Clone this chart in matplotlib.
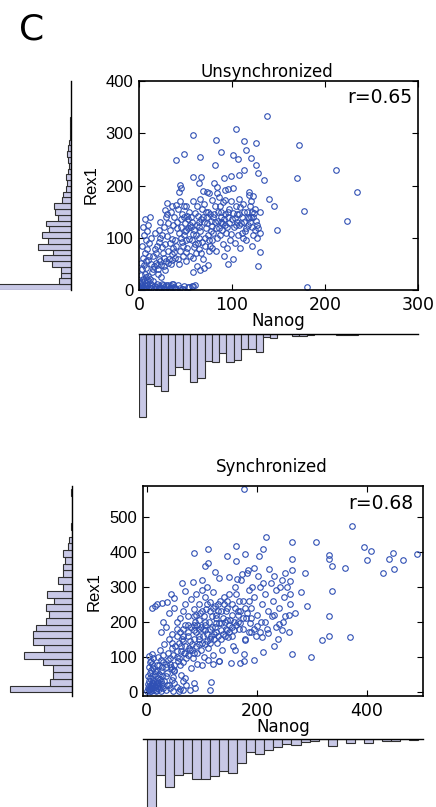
import numpy as np
import matplotlib
matplotlib.use("Agg")
import matplotlib.pyplot as plt

# taille de la figure en pixels (dpi 100)
W, H = 436, 807

panel_letter = "C"
titles = ["Unsynchronized", "Synchronized"]
r_labels = ["r=0.65", "r=0.68"]
x_name = "Nanog"
y_name = "Rex1"

# Unsynchronized : points (Nanog, Rex1)
unsync_points = [
    # amas près de l'origine
    (1, 1), (2, 3), (3, 0), (4, 5), (5, 2), (1, 8), (2, 12), (6, 7), (7, 1), (8, 4),
    (3, 15), (5, 18), (9, 10), (10, 2), (11, 6), (12, 14), (4, 22), (7, 25), (13, 3), (14, 9),
    (2, 28), (6, 30), (9, 20), (15, 18), (0, 4), (1, 16), (3, 9), (8, 14), (10, 27), (12, 22),
    # rangée du bas
    (16, 2), (18, 5), (20, 1), (22, 7), (24, 3), (26, 9), (28, 2), (30, 5), (32, 1), (34, 8),
    (36, 3), (38, 6), (40, 2), (42, 10), (44, 4), (46, 1), (48, 7), (53, 5), (57, 8), (60, 10),
    (19, 11), (25, 12), (31, 10), (37, 12), (17, 8), (21, 3), (27, 6), (33, 4), (29, 9), (35, 11),
    (47, 1), (54, 6), (58, 8), (39, 3),
    # bande verticale à gauche
    (3, 40), (5, 48), (8, 55), (4, 62), (10, 58), (6, 70), (9, 78), (3, 85), (11, 90), (7, 95),
    (5, 105), (9, 112), (4, 120), (10, 125), (6, 135), (12, 140), (8, 42), (11, 66), (2, 52), (13, 100),
    # nuage principal, bas gauche
    (14, 35), (16, 45), (18, 52), (20, 40), (22, 60), (24, 48), (26, 70), (15, 65), (17, 78), (19, 85),
    (21, 92), (23, 100), (25, 82), (27, 62), (29, 55), (31, 75), (33, 90), (35, 68), (37, 80), (39, 95),
    (28, 88), (30, 104), (32, 60), (34, 50), (36, 98), (38, 72), (40, 85), (20, 30), (24, 25), (28, 38),
    (13, 50), (18, 70), (15, 40), (19, 48), (23, 55), (27, 45), (31, 52), (35, 58), (39, 62), (43, 50),
    (25, 105), (21, 115), (17, 110), (23, 130), (27, 120), (31, 128), (33, 115), (37, 125), (41, 118),
    # nuage principal, milieu
    (42, 60), (44, 75), (46, 92), (48, 105), (50, 115), (52, 80), (54, 98), (56, 120), (58, 108), (60, 88),
    (62, 125), (64, 100), (66, 112), (68, 92), (70, 130), (72, 118), (74, 105), (76, 85), (78, 122), (80, 110),
    (45, 120), (49, 128), (53, 135), (57, 95), (61, 70), (65, 78), (69, 60), (73, 140), (77, 132), (43, 110),
    (47, 65), (51, 55), (55, 125), (59, 115), (63, 142), (67, 135), (71, 100), (75, 75), (79, 95), (41, 130),
    (50, 95), (58, 62), (62, 45), (66, 38), (70, 42), (74, 48), (58, 35),
    (47, 85), (51, 72), (55, 65), (59, 82), (63, 90), (67, 70), (71, 85), (75, 95), (79, 80), (45, 100),
    (49, 112), (53, 118), (57, 130), (61, 105), (65, 120), (69, 140), (73, 128), (77, 112), (45, 135), (48, 140),
    (56, 140), (64, 130), (72, 150),
    # nuage principal, droite
    (82, 130), (84, 100), (86, 118), (88, 140), (90, 88), (92, 125), (94, 110), (96, 150), (98, 95), (100, 135),
    (102, 120), (104, 160), (106, 105), (108, 145), (110, 128), (112, 165), (114, 112), (116, 150), (118, 138), (120, 170),
    (122, 120), (124, 148), (126, 132), (128, 118), (130, 110), (83, 75), (87, 160), (91, 65), (95, 80), (99, 170),
    (103, 90), (107, 175), (111, 140), (115, 95), (119, 160), (123, 105), (127, 100), (85, 150), (89, 115), (93, 172),
    (97, 128), (101, 60), (105, 145), (109, 80), (113, 130), (117, 125), (121, 85), (125, 155),
    (81, 145), (83, 118), (85, 132), (87, 105), (89, 128), (91, 135), (93, 145), (95, 120), (97, 155), (99, 108),
    (101, 148), (103, 138), (105, 130), (107, 125), (109, 158), (111, 110), (113, 150), (115, 118), (117, 140), (119, 130),
    (121, 150), (123, 140), (125, 115), (127, 125), (80, 140), (88, 130), (96, 140), (104, 125), (112, 100), (120, 140),
    # bande haute
    (30, 145), (34, 150), (38, 140), (42, 155), (46, 145), (50, 160), (54, 150), (58, 170), (62, 160), (66, 175),
    (70, 165), (74, 150), (78, 172), (82, 160), (86, 178), (90, 168), (36, 160), (44, 170), (52, 142), (60, 148),
    (68, 155), (76, 145), (84, 185), (88, 150),
    # points isolés
    (138, 333), (104, 308), (58, 297), (83, 288), (113, 286), (126, 282), (88, 265), (115, 268), (101, 258), (106, 251),
    (66, 255), (48, 260), (40, 248), (120, 253), (126, 240), (82, 240), (113, 230), (108, 221), (128, 223), (134, 210),
    (58, 216), (67, 216), (91, 215), (99, 218), (65, 204), (81, 204), (84, 198), (44, 201), (45, 196), (43, 188),
    (101, 195), (93, 191), (96, 194), (69, 190), (73, 188), (75, 185), (118, 188), (123, 179), (118, 181), (140, 175),
    (145, 160), (148, 115), (130, 73), (128, 45), (96, 49), (130, 149), (48, 160), (40, 163), (30, 166), (28, 154),
    (29, 140), (172, 278), (212, 229), (170, 214), (234, 187), (177, 152), (224, 133), (181, 6),
]

# Synchronized : points (Nanog, Rex1)
sync_points = [
    # amas près de l'origine
    (1, 2), (3, 5), (5, 1), (2, 10), (6, 8), (8, 3), (10, 12), (4, 16), (7, 20), (12, 6),
    (14, 15), (9, 25), (3, 30), (16, 4), (18, 10), (20, 18), (11, 35), (6, 38), (15, 28), (22, 8),
    (24, 14), (26, 3), (28, 22), (13, 20), (19, 32), (2, 22), (21, 40), (25, 30), (30, 10), (17, 2),
    (4, 8), (8, 14), (12, 24), (16, 20), (20, 26), (24, 36), (28, 44), (32, 30), (36, 18), (10, 45),
    # rangée du bas
    (35, 5), (42, 12), (48, 3), (55, 15), (60, 8), (66, 4), (72, 18), (79, 6), (88, 10), (114, 6),
    (117, 28), (59, 3), (40, 20), (50, 25), (65, 30), (45, 35), (70, 38), (85, 25),
    # bande verticale
    (2, 45), (5, 55), (8, 62), (3, 70), (10, 78), (6, 85), (12, 95), (4, 102), (9, 108), (14, 50),
    (11, 68), (7, 88), (14, 60), (18, 75), (22, 50), (26, 60), (30, 85), (34, 70), (38, 90), (42, 80),
    (46, 65), (50, 75),
    # nuage bas
    (18, 60), (22, 75), (26, 90), (30, 105), (34, 80), (38, 110), (42, 95), (46, 125), (50, 60), (54, 100),
    (58, 140), (62, 115), (66, 85), (70, 130), (74, 105), (78, 145), (20, 100), (24, 120), (28, 70), (32, 135),
    (36, 55), (40, 150), (44, 70), (48, 105), (52, 130), (56, 88), (60, 75), (64, 150), (68, 110), (72, 95),
    (76, 125), (80, 68), (47, 42), (62, 47), (50, 61), (35, 45),
    (54, 115), (58, 95), (62, 130), (66, 145), (70, 110), (74, 160), (78, 120), (82, 135), (86, 110), (90, 130),
    (94, 150), (98, 120), (45, 140), (55, 180), (65, 160), (75, 170), (60, 170), (70, 190), (80, 185),
    # nuage milieu
    (82, 120), (86, 150), (90, 170), (94, 135), (98, 185), (102, 160), (106, 200), (110, 145), (114, 180), (118, 215),
    (122, 165), (126, 195), (130, 230), (134, 175), (138, 210), (142, 160), (146, 240), (150, 190), (154, 220), (158, 175),
    (84, 95), (88, 200), (92, 110), (96, 225), (100, 140), (104, 100), (108, 235), (112, 125), (116, 160), (120, 105),
    (124, 245), (128, 140), (132, 195), (136, 120), (140, 250), (144, 180), (148, 155), (152, 205), (156, 130), (160, 240),
    (85, 175), (95, 160), (105, 175), (115, 140), (125, 220), (135, 150), (145, 205), (155, 160), (91, 80), (101, 75),
    (111, 90), (121, 78), (131, 88), (92, 190), (103, 215), (113, 200), (123, 185), (133, 260), (143, 230),
    (102, 180), (106, 135), (110, 165), (114, 150), (118, 185), (122, 150), (126, 170), (130, 160), (134, 195), (138, 165),
    (142, 200), (146, 175), (150, 170), (154, 185), (158, 200), (162, 190), (166, 220), (170, 195), (174, 210), (178, 240),
    (182, 225), (186, 260), (190, 210), (90, 220), (100, 230), (110, 250), (120, 240), (130, 250), (140, 270), (150, 280),
    (160, 300), (85, 190), (95, 180), (105, 190), (115, 230), (125, 210), (135, 230), (145, 260), (155, 250), (165, 230),
    (175, 180), (185, 170), (195, 180), (205, 170), (215, 200),
    # bande haute gauche
    (25, 170), (35, 185), (45, 165), (55, 200), (65, 180), (75, 215), (85, 235), (95, 250), (105, 270), (115, 255),
    (30, 200), (40, 225), (50, 240), (60, 210), (70, 250), (80, 265), (90, 280), (100, 290), (110, 300), (120, 285),
    (55, 160), (65, 230), (75, 190), (85, 215), (95, 205),
    # nuage droite
    (165, 200), (170, 230), (175, 260), (180, 210), (185, 290), (190, 240), (195, 270), (200, 220), (205, 300), (210, 250),
    (215, 280), (220, 230), (225, 310), (230, 260), (235, 290), (240, 240), (245, 320), (250, 270), (255, 300), (260, 250),
    (168, 180), (178, 150), (188, 195), (198, 160), (208, 200), (218, 180), (228, 215), (238, 150), (248, 200), (258, 170),
    (172, 320), (182, 340), (192, 300), (202, 330), (212, 310), (222, 350), (232, 330), (242, 300), (252, 340), (162, 280),
    (168, 258),
    # points isolés
    (177, 579), (216, 442), (264, 428), (264, 379), (264, 347), (162, 416), (178, 393), (146, 387), (162, 373), (111, 407),
    (86, 395), (111, 366), (106, 360), (211, 406), (204, 388), (195, 353), (184, 347), (173, 336), (164, 321), (149, 327),
    (132, 324), (123, 342), (101, 318), (84, 314), (63, 311), (70, 288), (43, 279), (50, 268), (36, 256), (27, 253),
    (18, 250), (10, 239), (14, 246), (131, 88), (153, 81), (169, 83), (177, 88), (195, 91), (161, 119), (176, 107),
    (178, 149), (190, 171), (200, 189), (212, 113), (209, 156), (221, 168), (232, 131), (235, 186), (245, 176), (240, 193),
    (231, 219), (252, 216), (264, 109), (258, 219), (270, 225), (260, 317), (260, 280), (288, 338), (281, 285), (291, 244),
    (336, 287), (331, 390), (331, 380), (337, 359), (361, 354), (332, 216), (319, 148), (332, 158), (370, 155), (299, 98),
    (308, 428), (373, 474), (395, 414), (400, 375), (407, 401), (429, 339), (441, 378), (448, 396), (450, 351), (465, 375),
    (491, 392),
]

# histogrammes marginaux (30 classes entre min et max), effectifs
unsync_rex1_range = (0, 332)
unsync_rex1_counts = [300, 12, 10, 10, 19, 28, 18, 33, 23, 29, 22, 25, 13, 16, 17,
                      9, 8, 5, 4, 5, 3, 2, 3, 4, 3, 2, 1, 1, 1, 1]
unsync_nanog_range = (0, 235)
unsync_nanog_counts = [83, 50, 52, 57, 41, 33, 35, 48, 44, 27, 28, 19, 28, 26, 15,
                       15, 18, 3, 4, 0, 0, 2, 2, 1, 0, 0, 0, 1, 1, 1]
sync_rex1_range = (-2, 578)
sync_rex1_counts = [62, 22, 19, 19, 29, 48, 28, 39, 39, 36, 26, 23, 26, 18, 25,
                    9, 14, 9, 9, 7, 9, 4, 3, 0, 1, 0, 0, 0, 0, 1]
sync_nanog_range = (0, 493)
sync_nanog_counts = [81, 36, 48, 36, 34, 40, 40, 37, 32, 34, 24, 13, 15, 11, 8,
                     5, 6, 3, 2, 0, 7, 0, 4, 0, 4, 0, 2, 2, 0, 1]

# limites et graduations des nuages de points
unsync_xlim, unsync_ylim = (0, 300), (0, 400)
unsync_xticks, unsync_yticks = [0, 100, 200, 300], [0, 100, 200, 300, 400]
sync_xlim, sync_ylim = (-7, 502), (-12, 587)
sync_xticks, sync_yticks = [0, 200, 400], [0, 100, 200, 300, 400, 500]

BLUE = "#3050b4"
FACE = "#c8c8e6"
EDGE = "#303030"


def px_axes(fig, x0, y0, x1, y1):
    return fig.add_axes([x0 / W, 1 - y1 / H, (x1 - x0) / W, (y1 - y0) / H])


def scatter_panel(fig, box, points, xlim, ylim, xticks, yticks):
    ax = px_axes(fig, *box)
    pts = np.array(points, dtype=float)
    ax.plot(pts[:, 0], pts[:, 1], "o", mfc="none", mec=BLUE, ms=4, mew=0.8)
    ax.set_xlim(*xlim)
    ax.set_ylim(*ylim)
    ax.set_xticks(xticks)
    ax.set_yticks(yticks)
    ax.tick_params(direction="in", top=True, right=True, length=4, width=0.8, pad=4)
    for lbl in ax.get_xticklabels():
        lbl.set_fontfamily("DejaVu Sans")
        lbl.set_fontsize(12.5)
    for lbl in ax.get_yticklabels():
        lbl.set_fontfamily("Liberation Sans")
        lbl.set_fontsize(12)
    for sp in ax.spines.values():
        sp.set_linewidth(1.2)
    return ax


def left_hist(fig, box, counts, rng, ylim):
    ax = px_axes(fig, *box)
    edges = np.linspace(rng[0], rng[1], len(counts) + 1)
    ax.barh(edges[:-1], counts, height=np.diff(edges), align="edge",
            color=FACE, edgecolor=EDGE, linewidth=0.8)
    ax.set_xlim(box[2] - box[0], 0)
    ax.set_ylim(*ylim)
    for name in ["top", "bottom", "left"]:
        ax.spines[name].set_visible(False)
    ax.spines["right"].set_linewidth(1.0)
    ax.set_xticks([])
    ax.set_yticks([])
    ax.patch.set_visible(False)
    return ax


def bottom_hist(fig, box, counts, rng, xlim):
    ax = px_axes(fig, *box)
    edges = np.linspace(rng[0], rng[1], len(counts) + 1)
    ax.bar(edges[:-1], counts, width=np.diff(edges), align="edge",
           color=FACE, edgecolor=EDGE, linewidth=0.8)
    ax.set_ylim(box[3] - box[1], 0)
    ax.set_xlim(*xlim)
    for name in ["right", "bottom", "left"]:
        ax.spines[name].set_visible(False)
    ax.spines["top"].set_linewidth(1.0)
    ax.set_xticks([])
    ax.set_yticks([])
    ax.patch.set_visible(False)
    return ax


fig = plt.figure(figsize=(W / 100, H / 100), dpi=100)

# --- panneau du haut
scatter_panel(fig, (139, 81, 418, 290), unsync_points, unsync_xlim, unsync_ylim,
              unsync_xticks, unsync_yticks)
left_hist(fig, (0, 81, 71, 290), unsync_rex1_counts, unsync_rex1_range, unsync_ylim)
bottom_hist(fig, (139, 334, 418, 424), unsync_nanog_counts, unsync_nanog_range, unsync_xlim)

# --- panneau du bas
scatter_panel(fig, (143, 486, 423, 696), sync_points, sync_xlim, sync_ylim,
              sync_xticks, sync_yticks)
left_hist(fig, (0, 486, 72, 696), sync_rex1_counts, sync_rex1_range, sync_ylim)
bottom_hist(fig, (143, 739, 423, 807), sync_nanog_counts, sync_nanog_range, sync_xlim)


def ftext(x, y, s, **kw):
    fig.text(x / W, 1 - y / H, s, **kw)


ftext(32, 30, panel_letter, fontsize=26, ha="center", va="center", family="DejaVu Sans")

ftext(267, 77, titles[0], fontsize=12, ha="center", va="baseline")
ftext(272, 472, titles[1], fontsize=12, ha="center", va="baseline")

ftext(412, 103, r_labels[0], fontsize=13.5, ha="right", va="baseline")
ftext(413, 509, r_labels[1], fontsize=13.5, ha="right", va="baseline")

ftext(278, 321, x_name, fontsize=12, ha="center", va="center")
ftext(283, 727, x_name, fontsize=12, ha="center", va="center")

ftext(91, 185, y_name, fontsize=12, rotation=90, ha="center", va="center", family="Liberation Sans")
ftext(94, 592, y_name, fontsize=12, rotation=90, ha="center", va="center", family="Liberation Sans")

fig.savefig("out.png", dpi=100)
